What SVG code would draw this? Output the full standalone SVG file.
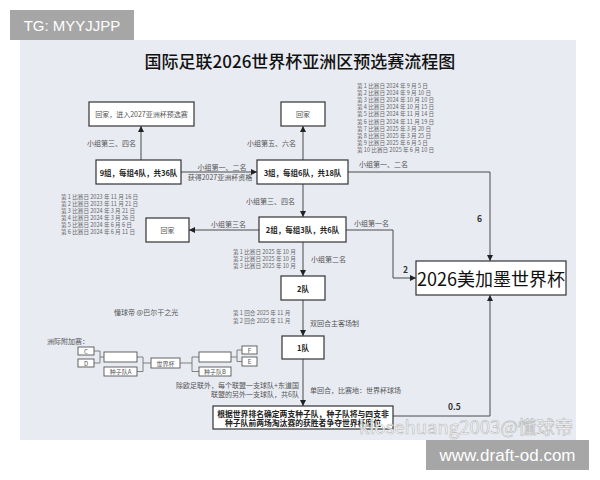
<svg xmlns="http://www.w3.org/2000/svg" width="600" height="480" viewBox="0 0 600 480">
<defs>
<marker id="ah" viewBox="0 0 10 10" refX="10" refY="5" markerWidth="6" markerHeight="6" markerUnits="userSpaceOnUse" orient="auto"><path d="M0,0 L10,5 L0,10 z" fill="#222"/></marker>
<style>
text{font-family:"Noto Sans CJK SC","Liberation Sans",sans-serif;}
.box{fill:#fff;stroke:#333;stroke-width:1.2;}
.sbox{fill:#fff;stroke:#555;stroke-width:0.9;}
.ln{fill:none;stroke:#4a4a4a;stroke-width:1;}
.bl{fill:none;stroke:#666;stroke-width:0.8;}
.nt{font-size:7.5px;font-weight:bold;fill:#222;text-anchor:middle;dominant-baseline:central;}
.gt{font-size:7px;fill:#555;text-anchor:middle;dominant-baseline:central;}
.lb{font-size:7px;fill:#555;dominant-baseline:central;}
.dt{font-size:5.6px;fill:#666;}
.st{font-size:6px;fill:#555;text-anchor:middle;dominant-baseline:central;}
.num{font-size:8.5px;font-weight:bold;fill:#333;dominant-baseline:central;}
</style>
</defs>
<rect x="0" y="0" width="600" height="480" fill="#fff"/>
<rect x="20" y="40" width="556" height="400" fill="#e8ebf2"/>
<text x="300" y="60" font-size="17" font-weight="500" fill="#111" text-anchor="middle" dominant-baseline="central">国际足联2026世界杯亚洲区预选赛流程图</text>

<g id="connectors" marker-end="url(#ah)">
<path class="ln" d="M141,160 V126"/>
<path class="ln" d="M181,172 H257"/>
<path class="ln" d="M303,160 V126"/>
<path class="ln" d="M348,172 H490 V261"/>
<path class="ln" d="M303,184 V217"/>
<path class="ln" d="M259,230 H189"/>
<path class="ln" d="M346,230 H393 V278 H416"/>
<path class="ln" d="M303,242 V276"/>
<path class="ln" d="M303,300 V336"/>
<path class="ln" d="M303,359 V406"/>
<path class="ln" d="M393,416 H490 V295"/>
</g>

<g id="n-home2027"><rect class="box" x="89" y="102" width="105" height="24"/><text class="gt" x="141.5" y="114">回家，进入2027亚洲杯预选赛</text></g>
<g id="n-home1"><rect class="box" x="281" y="102" width="44" height="24"/><text class="gt" x="303" y="114">回家</text></g>
<g id="n-r1"><rect class="box" x="96" y="160" width="85" height="24"/><text class="nt" x="138.5" y="172">9组，每组4队，共36队</text></g>
<g id="n-r3"><rect class="box" x="257" y="160" width="91" height="24"/><text class="nt" x="302.5" y="172">3组，每组6队，共18队</text></g>
<g id="n-home2"><rect class="box" x="146" y="218" width="43" height="24"/><text class="gt" x="167.5" y="230">回家</text></g>
<g id="n-r4"><rect class="box" x="259" y="217" width="87" height="25"/><text class="nt" x="302.5" y="229.5">2组，每组3队，共6队</text></g>
<g id="n-r5"><rect class="box" x="281" y="276" width="44" height="24"/><text class="nt" x="303" y="288">2队</text></g>
<g id="n-r6"><rect class="box" x="282" y="336" width="42" height="23"/><text class="nt" x="303" y="347.5">1队</text></g>
<g id="n-wc"><rect class="box" x="416" y="261" width="150" height="34"/><text x="491" y="278" font-size="18" fill="#111" text-anchor="middle" dominant-baseline="central">2026美加墨世界杯</text></g>
<g id="n-playoff"><rect class="box" x="213" y="406" width="180" height="23"/>
<text x="303" y="413" font-size="7.8" font-weight="bold" fill="#222" text-anchor="middle" dominant-baseline="central">根据世界排名确定两支种子队，种子队将与四支非</text>
<text x="303" y="422.5" font-size="7.8" font-weight="bold" fill="#222" text-anchor="middle" dominant-baseline="central">种子队前两场淘汰赛的获胜者争夺世界杯席位</text></g>

<g id="labels">
<text class="lb" x="87" y="143">小组第三、四名</text>
<text class="lb" x="222" y="166.5" text-anchor="middle">小组第一、二名</text>
<text class="lb" x="220" y="177" font-size="5.7" text-anchor="middle">获得2027亚洲杯资格</text>
<text class="lb" x="247" y="143">小组第五、六名</text>
<text class="lb" x="359" y="164">小组第一、二名</text>
<text class="num" x="477" y="218">6</text>
<text class="lb" x="246" y="201">小组第三、四名</text>
<text class="lb" x="211" y="224">小组第三名</text>
<text class="lb" x="354" y="223">小组第一名</text>
<text class="num" x="403" y="269">2</text>
<text class="lb" x="311" y="259">小组第二名</text>
<text class="lb" x="310" y="323">双回合主客场制</text>
<text class="lb" x="310" y="390">单回合，比赛地：世界杯球场</text>
<text class="num" x="448" y="406">0.5</text>
<text class="lb" x="299" y="385" text-anchor="end">除欧足联外，每个联盟一支球队+东道国</text>
<text class="lb" x="299" y="394" text-anchor="end">联盟的另外一支球队，共6队</text>
<text class="lb" x="114" y="312" font-size="7.5">懂球帝 @巴尔干之光</text>
<text class="lb" x="47" y="341" font-size="6.5">洲际附加赛：</text>
</g>

<g id="dates-r3" class="dt">
<text x="357" y="88">第 1 比赛日 2024 年 9 月 5 日</text>
<text x="357" y="95.1">第 2 比赛日 2024 年 9 月 10 日</text>
<text x="357" y="102.2">第 3 比赛日 2024 年 10 月 10 日</text>
<text x="357" y="109.3">第 4 比赛日 2024 年 10 月 15 日</text>
<text x="357" y="116.4">第 5 比赛日 2024 年 11 月 14 日</text>
<text x="357" y="123.5">第 6 比赛日 2024 年 11 月 19 日</text>
<text x="357" y="130.6">第 7 比赛日 2025 年 3 月 20 日</text>
<text x="357" y="137.7">第 8 比赛日 2025 年 3 月 25 日</text>
<text x="357" y="144.8">第 9 比赛日 2025 年 6 月 5 日</text>
<text x="357" y="151.9">第 10 比赛日 2025 年 6 月 10 日</text>
</g>
<g id="dates-r1" class="dt">
<text x="61" y="199">第 1 比赛日 2023 年 11 月 16 日</text>
<text x="61" y="206">第 2 比赛日 2023 年 11 月 21 日</text>
<text x="61" y="213">第 3 比赛日 2024 年 3 月 21 日</text>
<text x="61" y="220">第 4 比赛日 2024 年 3 月 26 日</text>
<text x="61" y="227">第 5 比赛日 2024 年 6 月 6 日</text>
<text x="61" y="234">第 6 比赛日 2024 年 6 月 11 日</text>
</g>
<g id="dates-r4" class="dt">
<text x="233" y="254">第 1 比赛日 2025 年 10 月</text>
<text x="233" y="261">第 2 比赛日 2025 年 10 月</text>
<text x="233" y="268">第 3 比赛日 2025 年 10 月</text>
</g>
<g id="dates-r5" class="dt">
<text x="233" y="315">第 1 回合 2025 年 11 月</text>
<text x="233" y="322.5">第 2 回合 2025 年 11 月</text>
</g>

<g id="bracket">
<path class="bl" d="M94,351 H100 V363 H94 M100,357 H104 M137,357 H143 V371.5 H137 M143,363 H151 M180,363 H192 V357 H199 M192,363 V371.5 H199 M231,357 H237 V350 H242 M237,357 V361.5 H242"/>
<g id="b-c"><rect class="sbox" x="78" y="347" width="16" height="8"/><text class="st" x="86" y="351">C</text></g>
<g id="b-d"><rect class="sbox" x="78" y="359" width="16" height="8"/><text class="st" x="86" y="363">D</text></g>
<g id="b-w1"><rect class="sbox" x="104" y="352" width="33" height="10"/></g>
<g id="b-sa"><rect class="sbox" x="104" y="367" width="33" height="9"/><text class="st" x="120.5" y="371.5">种子队A</text></g>
<g id="b-wc"><rect class="sbox" x="151" y="358" width="29" height="10"/><text class="st" x="165.5" y="363">世界杯</text></g>
<g id="b-w2"><rect class="sbox" x="199" y="352" width="32" height="10"/></g>
<g id="b-sb"><rect class="sbox" x="199" y="367" width="32" height="9"/><text class="st" x="215" y="371.5">种子队B</text></g>
<g id="b-f"><rect class="sbox" x="242" y="346" width="15" height="8"/><text class="st" x="249.5" y="350">F</text></g>
<g id="b-e"><rect class="sbox" x="242" y="357" width="15" height="9"/><text class="st" x="249.5" y="361.5">E</text></g>
</g>

<text x="359" y="434" font-size="18.5" fill="#fff" fill-opacity="0.85" stroke="#b8b8b8" stroke-width="0.6" font-family="'Noto Sans CJK SC','Liberation Sans',sans-serif">klosehuang2003@懂球帝</text>

<g id="tg"><rect x="10" y="10" width="124" height="30" fill="#a6a6a6"/><text x="72" y="25" font-size="15" fill="#fff" text-anchor="middle" dominant-baseline="central" style="font-family:'Liberation Sans',sans-serif">TG: MYYJJPP</text></g>
<g id="site"><rect x="426" y="440" width="163" height="30" fill="#a6a6a6"/><text x="507.5" y="455" font-size="17" fill="#fff" text-anchor="middle" dominant-baseline="central" style="font-family:'Liberation Sans',sans-serif">www.draft-od.com</text></g>
</svg>
